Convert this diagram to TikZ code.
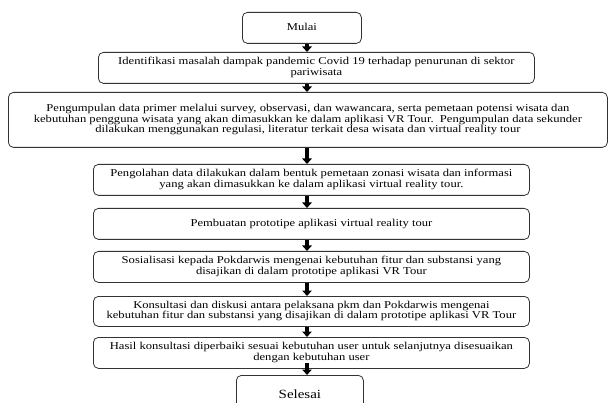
\documentclass[tikz,border=0pt]{standalone}
\usepackage{fontspec}
\setmainfont{Liberation Serif}
\usepackage{graphicx}
\usetikzlibrary{arrows.meta}
\newcommand{\sx}[1]{\scalebox{1.2}[1]{\begin{tabular}{@{}c@{}}#1\end{tabular}}}
\begin{document}
\begin{tikzpicture}[x=1pt,y=-1pt,
  box/.style={draw=black!80, line width=0.8pt, rounded corners=5pt, inner sep=0pt,
    anchor=north west, font=\fontsize{10.5}{10.8}\selectfont},
  arr/.style={line width=3.2pt, -{Triangle[width=9.5pt,length=5.5pt]}}]
\useasboundingbox (0,0) rectangle (610,403);
\clip (0,0) rectangle (610,403);
\node[box, minimum width=119pt, minimum height=31pt] (m) at (242,12) {\sx{Mulai}};
\node[box, minimum width=436pt, minimum height=31pt] (b2) at (98,52)
  {\sx{Identifikasi masalah dampak pandemic Covid 19 terhadap penurunan di sektor\\pariwisata}};
\node[box, minimum width=599pt, minimum height=55pt] (b3) at (8,92)
  {\sx{Pengumpulan data primer melalui survey, observasi, dan wawancara, serta pemetaan potensi wisata dan\\
  kebutuhan pengguna wisata yang akan dimasukkan ke dalam aplikasi VR Tour.\ \ Pengumpulan data sekunder\\
  dilakukan menggunakan regulasi, literatur terkait desa wisata dan virtual reality tour}};
\node[box, minimum width=436pt, minimum height=31pt] (b4) at (93,164)
  {\sx{Pengolahan data dilakukan dalam bentuk pemetaan zonasi wisata dan informasi\\
  yang akan dimasukkan ke dalam aplikasi virtual reality tour.}};
\node[box, minimum width=436pt, minimum height=31pt] (b5) at (93,208)
  {\sx{Pembuatan prototipe aplikasi virtual reality tour}};
\node[box, minimum width=436pt, minimum height=31pt] (b6) at (93,251)
  {\sx{Sosialisasi kepada Pokdarwis mengenai kebutuhan fitur dan substansi yang\\
  disajikan di dalam prototipe aplikasi VR Tour}};
\node[box, minimum width=436pt, minimum height=30pt] (b7) at (93,296)
  {\sx{Konsultasi dan diskusi antara pelaksana pkm dan Pokdarwis mengenai\\
  kebutuhan fitur dan substansi yang disajikan di dalam prototipe aplikasi VR Tour}};
\node[box, minimum width=436pt, minimum height=31pt] (b8) at (93,337)
  {\sx{Hasil konsultasi diperbaiki sesuai kebutuhan user untuk selanjutnya disesuaikan\\
  dengan kebutuhan user}};
\node[box, minimum width=127pt, minimum height=44pt, font=\fontsize{12.5}{13}\selectfont] (s) at (236,375)
  {\raisebox{6pt}{\sx{Selesai}}};
\coordinate (ax) at (307,0);
\coordinate (a8) at (307,363);
\draw[arr] (m.south -| ax) -- (b2.north -| ax);
\draw[arr] (b2.south -| ax) -- (b3.north -| ax);
\draw[arr] (b3.south -| ax) -- (b4.north -| ax);
\draw[arr] (b4.south -| ax) -- (b5.north -| ax);
\draw[arr] (b5.south -| ax) -- (b6.north -| ax);
\draw[arr] (b6.south -| ax) -- (b7.north -| ax);
\draw[arr] (b7.south -| ax) -- (b8.north -| ax);
\draw[arr] (a8) -- (s.north -| ax);
\end{tikzpicture}
\end{document}
